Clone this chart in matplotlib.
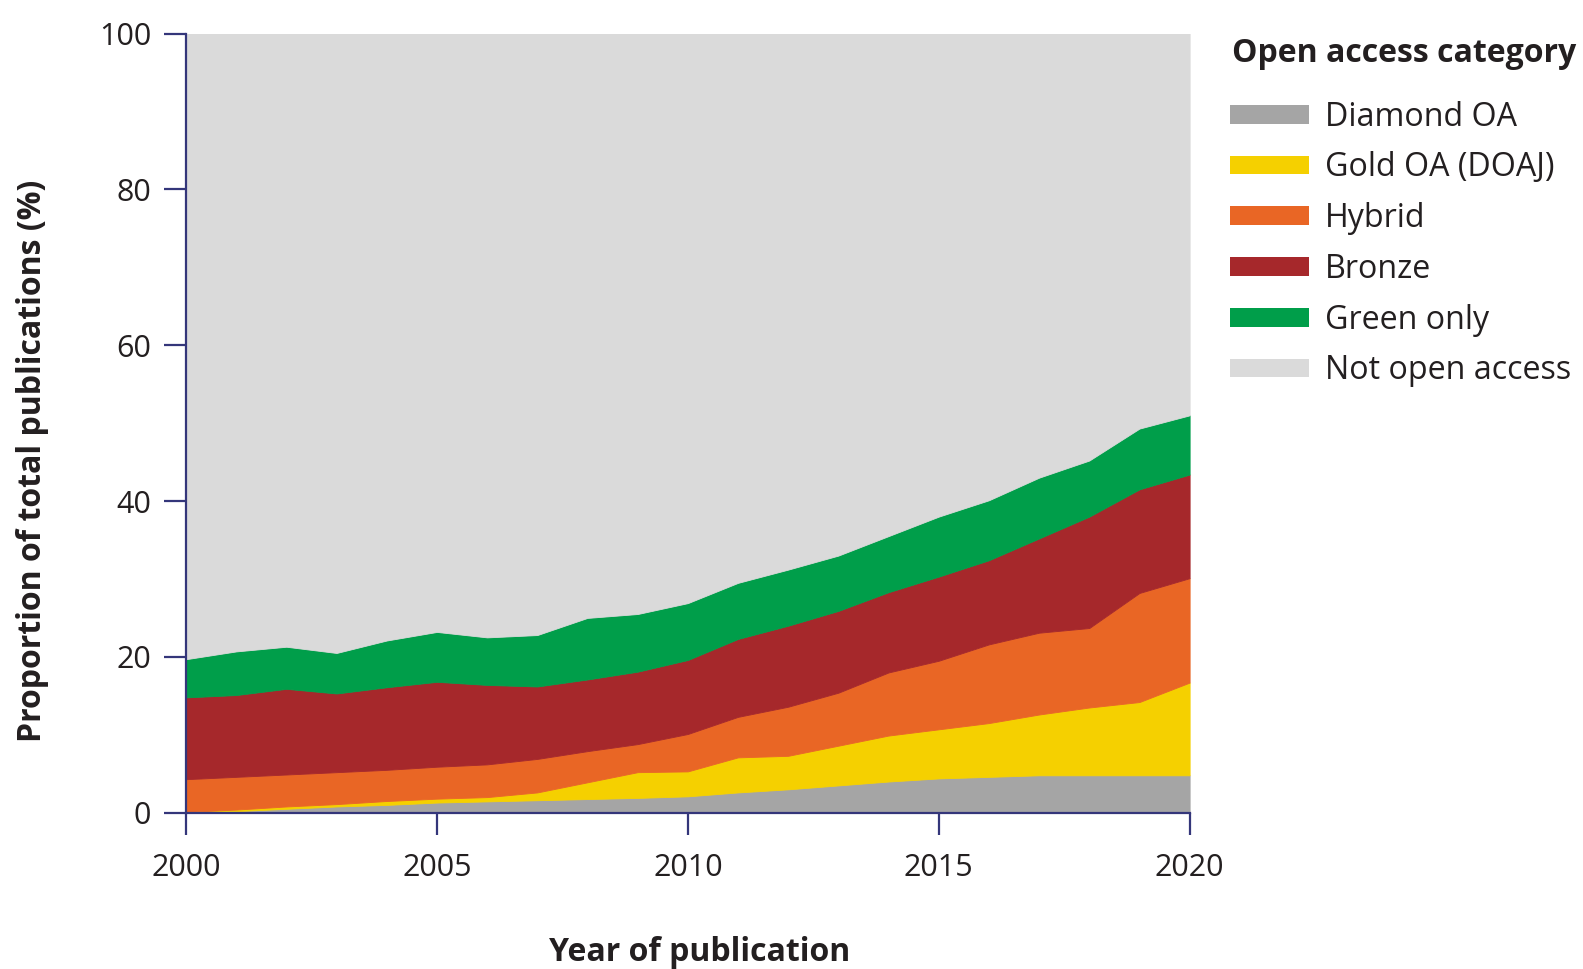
import matplotlib
matplotlib.use("Agg")
import matplotlib.pyplot as plt
from matplotlib.patches import Patch
import numpy as np

plt.rcParams['font.family'] = ['Open Sans', 'DejaVu Sans']

years = list(range(2000, 2021))

# share of publications per category (%)
diamond = [0.05, 0.2, 0.5, 0.8, 1.0, 1.3, 1.45, 1.6, 1.75, 1.9, 2.1,
           2.6, 3.0, 3.5, 4.0, 4.4, 4.6, 4.8, 4.8, 4.8, 4.8]
gold = [0.05, 0.2, 0.3, 0.3, 0.5, 0.5, 0.55, 1.0, 2.15, 3.3, 3.2,
        4.5, 4.3, 5.1, 5.9, 6.3, 6.9, 7.8, 8.7, 9.4, 11.9]
hybrid = [4.2, 4.2, 4.1, 4.1, 4.0, 4.1, 4.2, 4.3, 4.0, 3.6, 4.8,
          5.2, 6.3, 6.8, 8.1, 8.8, 10.1, 10.5, 10.2, 14.0, 13.4]
bronze = [10.5, 10.5, 11.0, 10.1, 10.6, 10.9, 10.2, 9.3, 9.2, 9.3, 9.5,
          10.0, 10.4, 10.5, 10.3, 10.8, 10.8, 12.1, 14.3, 13.3, 13.3]
green = [4.9, 5.6, 5.4, 5.2, 6.0, 6.4, 6.1, 6.6, 7.9, 7.4, 7.3,
         7.2, 7.2, 7.1, 7.2, 7.7, 7.7, 7.8, 7.2, 7.8, 7.6]

labels = ["Diamond OA", "Gold OA (DOAJ)", "Hybrid", "Bronze", "Green only", "Not open access"]
colors = ["#a5a5a5", "#f5d000", "#e96625", "#a6282b", "#009e4a", "#dadada"]

oa_total = np.sum([diamond, gold, hybrid, bronze, green], axis=0)
not_oa = 100 - oa_total

axis_col = "#34367a"
text_col = "#231f20"

fig = plt.figure(figsize=(15.83, 9.69), dpi=100)
ax = fig.add_axes([0.1175, 0.1613, 0.634, 0.8041])

ax.stackplot(years, diamond, gold, hybrid, bronze, green, not_oa,
             colors=colors, edgecolor="face", linewidth=0.6)

ax.set_xlim(2000, 2020)
ax.set_ylim(0, 100)
ax.set_xticks([2000, 2005, 2010, 2015, 2020])
ax.set_yticks([0, 20, 40, 60, 80, 100])

for s in ["top", "right"]:
    ax.spines[s].set_visible(False)
for s in ["left", "bottom"]:
    ax.spines[s].set_color(axis_col)
    ax.spines[s].set_linewidth(1.6)

ax.tick_params(axis="both", direction="out", length=16, width=1.6, color=axis_col,
               labelsize=22, labelcolor=text_col)
ax.tick_params(axis="x", pad=13)
ax.tick_params(axis="y", pad=9)

ax.set_xlabel("Year of publication", fontsize=23, fontweight="bold", color=text_col)
ax.xaxis.set_label_coords(0.512, -0.158)
ax.set_ylabel("Proportion of total publications (%)", fontsize=23, fontweight="bold",
              color=text_col)
ax.yaxis.set_label_coords(-0.137, 0.452)

fig.text(0.778, 0.945, "Open access category", fontsize=23, fontweight="bold",
         color=text_col, ha="left", va="center")

handles = [Patch(facecolor=c, edgecolor="none") for c in colors]
leg = fig.legend(handles, labels, loc="upper left", bbox_to_anchor=(0.777, 0.896),
                 frameon=False, fontsize=23.2,
                 handlelength=2.45, handleheight=0.52, handletextpad=0.5,
                 labelspacing=0.55, borderaxespad=0, borderpad=0)
for t in leg.get_texts():
    t.set_color(text_col)

plt.savefig("out.png", dpi=100)
